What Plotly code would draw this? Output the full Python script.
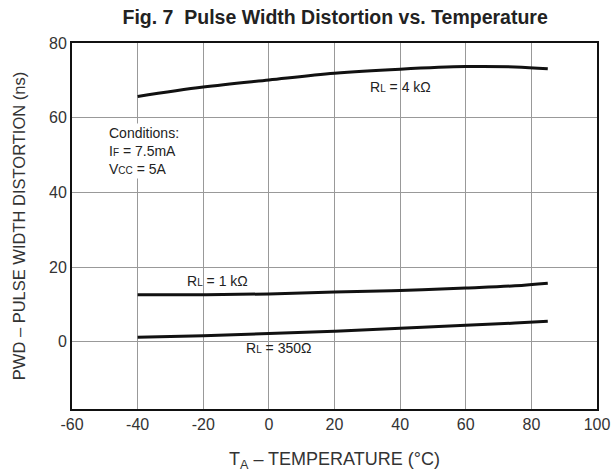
import plotly.graph_objects as go

temps = [-40, -20, 0, 20, 40, 60, 75, 85]
pwd_4k = [65.7, 68.2, 70.1, 71.9, 73.0, 73.7, 73.6, 73.1]
pwd_1k = [12.6, 12.6, 12.8, 13.3, 13.7, 14.4, 15.0, 15.7]
pwd_350 = [1.2, 1.6, 2.2, 2.8, 3.6, 4.4, 5.0, 5.5]

x_ticks = [-60, -40, -20, 0, 20, 40, 60, 80, 100]
x_labels = ["-60", "-40", "-20", "0", "20", "40", "60", "80", "100"]
y_ticks = [0, 20, 40, 60, 80]
y_labels = ["0", "20", "40", "60", "80"]

FONT = "Liberation Sans, Arial, sans-serif"
sm = "<span style='font-size:10px'>{}</span>"

fig = go.Figure()
for ys in (pwd_4k, pwd_1k, pwd_350):
    fig.add_trace(go.Scatter(x=temps, y=ys, mode="lines",
                             line=dict(color="#111111", width=3, shape="spline"),
                             showlegend=False, hoverinfo="skip"))

ann = dict(showarrow=False, font=dict(family=FONT, size=14, color="#222"))
fig.add_annotation(x=40.1, y=68.3, text="R" + sm.format("L") + " = 4 kΩ", **ann)
fig.add_annotation(x=-15.8, y=16.2, text="R" + sm.format("L") + " = 1 kΩ", **ann)
fig.add_annotation(x=3.0, y=-1.6, text="R" + sm.format("L") + " = 350Ω", **ann)
fig.add_annotation(x=-49.3, y=51.0, xanchor="left", align="left",
                   text="Conditions:<br>I" + sm.format("F") + " = 7.5mA<br>V" + sm.format("CC") + " = 5A",
                   bgcolor="white", **ann)

fig.update_layout(
    width=615, height=472,
    margin=dict(l=72, r=18, t=43, b=63, autoexpand=False),
    paper_bgcolor="white", plot_bgcolor="white",
    title=dict(text="<b>Fig. 7  Pulse Width Distortion vs. Temperature</b>",
               x=0.545, xanchor="center", y=0.963, yanchor="middle",
               font=dict(family=FONT, size=19.5, color="#222")),
    font=dict(family=FONT, color="#333"),
)
fig.update_xaxes(range=[-60, 100], tickvals=x_ticks, ticktext=x_labels, ticks="",
                 automargin=False,
                 showgrid=True, gridcolor="#999999", gridwidth=1, zeroline=False,
                 showline=True, linecolor="#111", linewidth=2, mirror=True,
                 tickfont=dict(size=16, color="#333"),
                 title=dict(text="T<sub>A</sub> – TEMPERATURE (°C)",
                            font=dict(size=18, color="#333"), standoff=20))
fig.update_yaxes(range=[-18, 80], tickvals=y_ticks, ticktext=y_labels, ticks="",
                 automargin=False,
                 showgrid=True, gridcolor="#999999", gridwidth=1, zeroline=False,
                 showline=True, linecolor="#111", linewidth=2, mirror=True,
                 tickfont=dict(size=16, color="#333"),
                 title=dict(text="PWD – PULSE WIDTH DISTORTION (ns)",
                            font=dict(size=16.5, color="#333"), standoff=19))

# remove the browser's default 8px body margin so the figure fills the window exactly
fig.write_html("out.html", config={"displayModeBar": False},
               post_script="document.body.style.margin='0';")
